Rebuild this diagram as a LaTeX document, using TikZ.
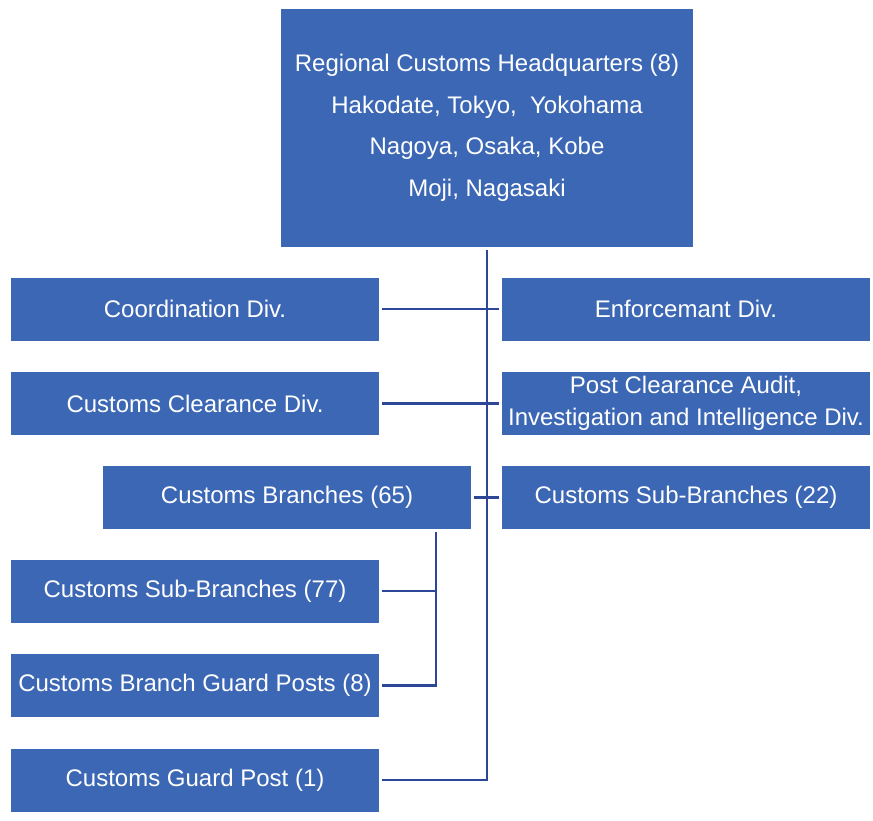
\documentclass[tikz,border=0pt]{standalone}
\usepackage{fontspec}
\setmainfont{Liberation Sans}
\usetikzlibrary{positioning}

\definecolor{boxblue}{RGB}{60,103,180}
\definecolor{lineblue}{RGB}{44,70,152}

\begin{document}
\begin{tikzpicture}[
                x=1pt, y=-1pt,
                OrgBox/.style={fill=boxblue, text=white, minimum width=368pt, minimum height=63pt, outer sep=3pt, inner sep=0pt, align=center, font=\fontsize{24}{32}\selectfont},
                HeadBox/.style={OrgBox, minimum width=412pt, minimum height=238pt, font=\fontsize{24}{41.5}\selectfont},
                Link/.style={draw=lineblue, line width=2.6pt},
            ]
            \useasboundingbox (0,0) rectangle (873,820);

            \node [HeadBox] (hq) at (487,128) {Regional Customs Headquarters (8)\\Hakodate, Tokyo,\ \ Yokohama\\Nagoya, Osaka, Kobe\\Moji, Nagasaki};

            \node [OrgBox] (coord) at (195,309) {Coordination Div.};
            \node [OrgBox] (enf) at (686,309) {Enforcemant Div.};
            \node [OrgBox] (clear) at (195,403.5) {Customs Clearance Div.};
            \node [OrgBox] (audit) at (686,403.5) {Post Clearance Audit,\\Investigation and Intelligence Div.};
            \node [OrgBox] (branch) at (287,497.5) {Customs Branches (65)};
            \node [OrgBox] (subr) at (686,497.5) {Customs Sub-Branches (22)};
            \node [OrgBox] (subl) at (195,591) {Customs Sub-Branches (77)};
            \node [OrgBox] (bguard) at (195,685.5) {Customs Branch Guard Posts (8)};
            \node [OrgBox] (guard) at (195,780) {Customs Guard Post (1)};

            \coordinate (bx) at (436,0);

            \draw [Link] (hq.south) |- (guard.east);
            \draw [Link] (coord.east) -- (enf.west);
            \draw [Link] (clear.east) -- (audit.west);
            \draw [Link] (branch.east) -- (subr.west);
            \draw [Link] (bx |- branch.south) |- (bguard.east);
            \draw [Link] (bx |- subl.east) -- (subl.east);
        \end{tikzpicture}
\end{document}
